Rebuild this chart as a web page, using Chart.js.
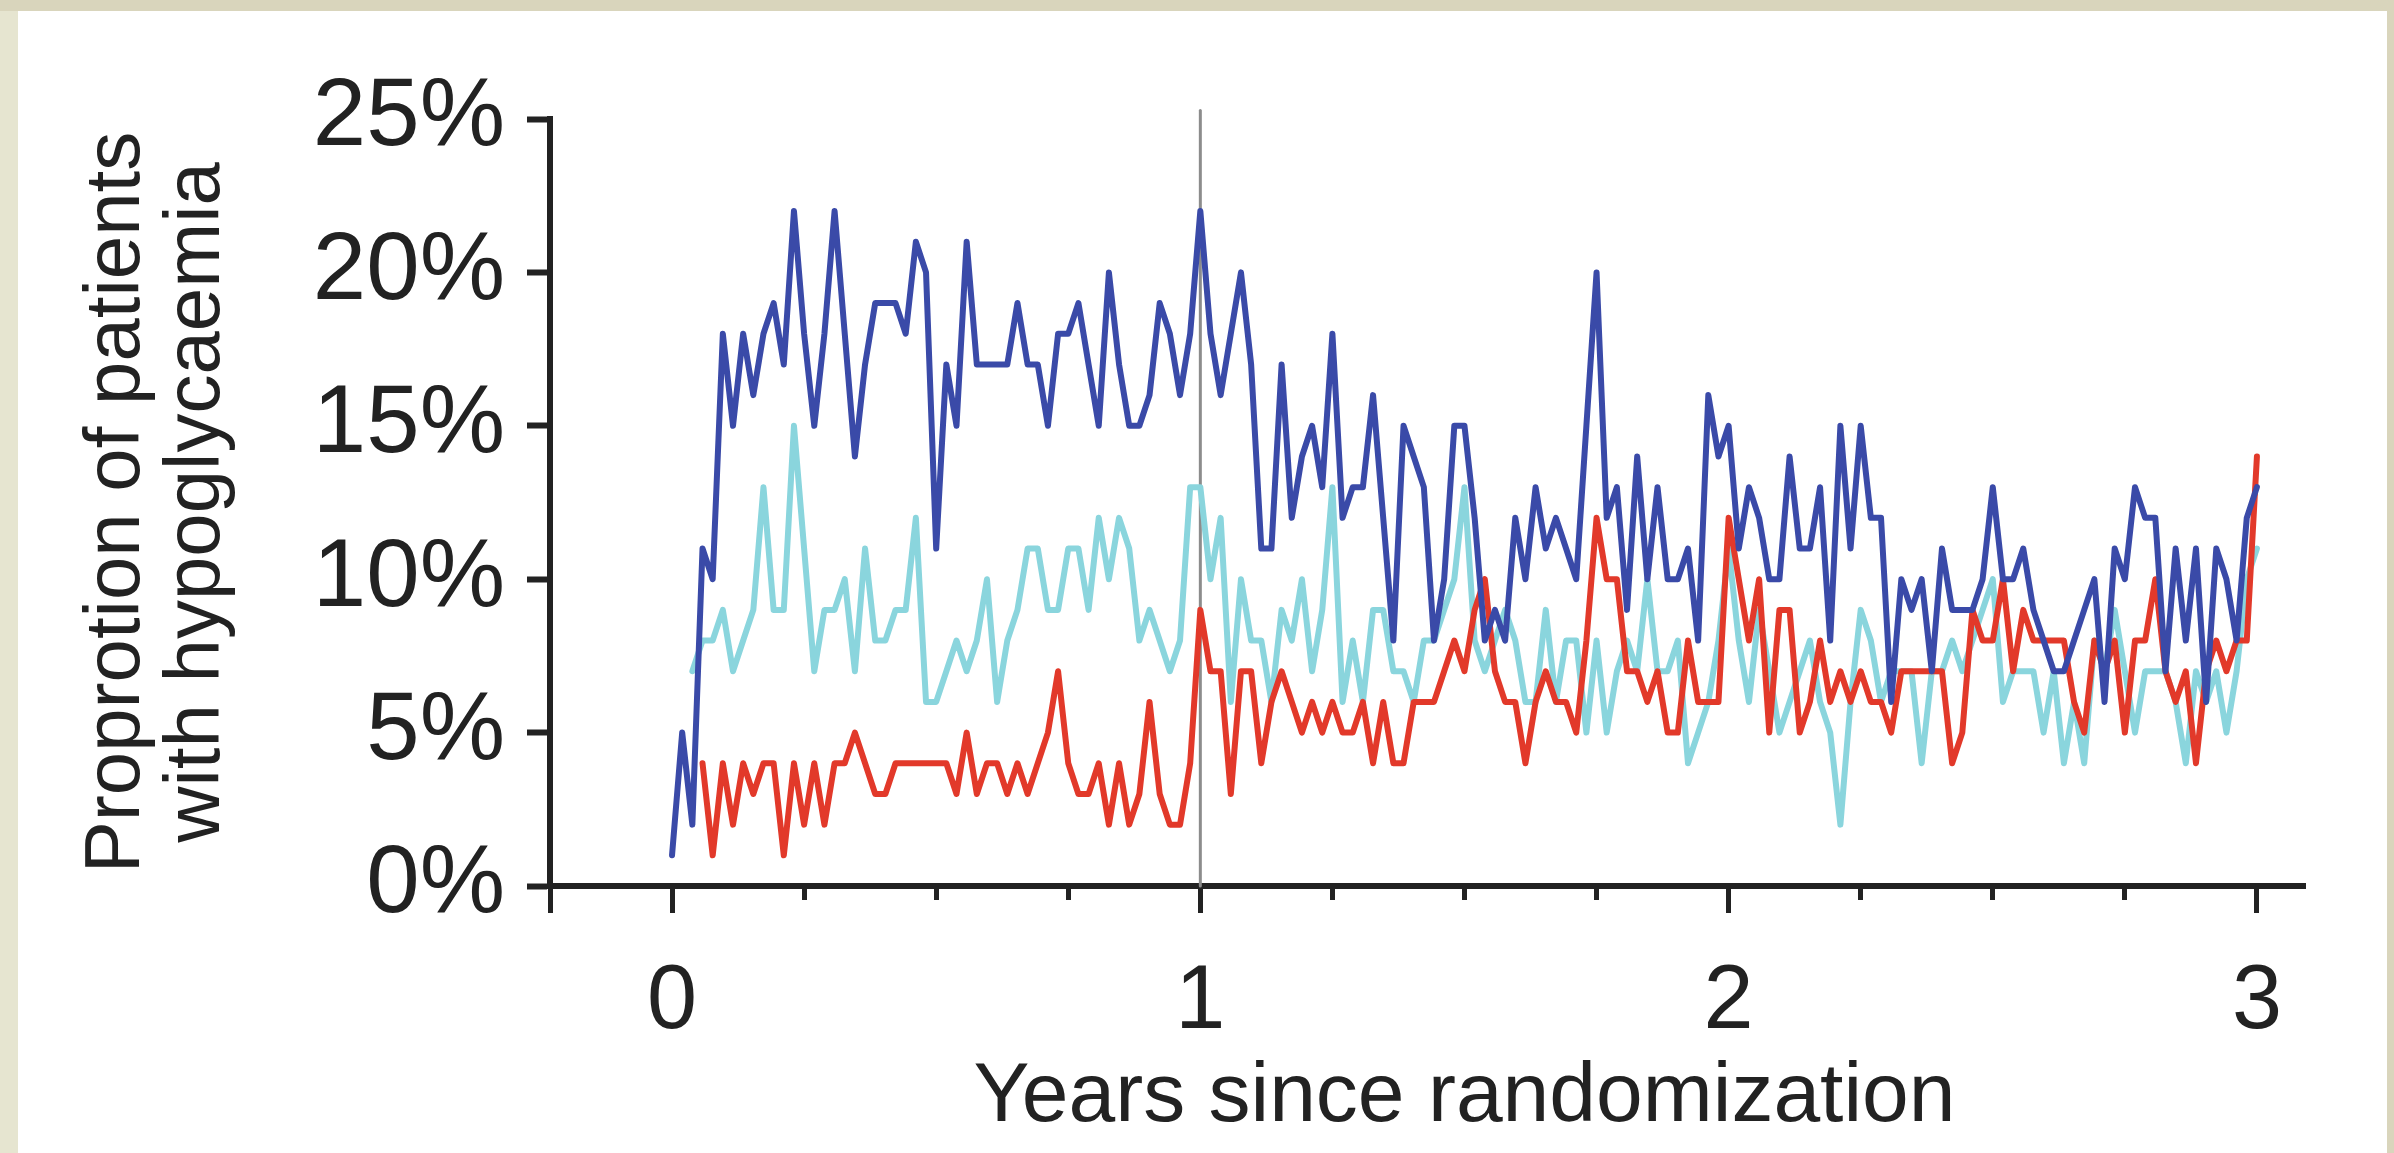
<!DOCTYPE html>
<html>
<head>
<meta charset="utf-8">
<script src="https://cdn.jsdelivr.net/npm/chart.js@4.4.1/dist/chart.umd.min.js"></script>
<style>
  html, body { margin: 0; padding: 0; }
  body { width: 2394px; height: 1153px; background: #d9d5bc; position: relative; overflow: hidden; }
  #strip { position: absolute; left: 0; top: 11px; width: 18px; bottom: 0; background: #e6e5d0; }
  #panel { position: absolute; left: 18px; top: 11px; right: 7px; bottom: 0; background: #ffffff; }
  #chart { position: absolute; left: 0; top: 0; }
</style>
</head>
<body>
<div id="strip"></div>
<div id="panel"></div>
<canvas id="chart" width="2394" height="1153"></canvas>
<script>
// weekly values (% of patients), week 0 .. week 156
let blueValues = [
  1, 5, 2, 11, 10, 18, 15, 18, 16, 18, 19, 17, 22, 18, 15, 18, 22, 18, 14, 17,
  19, 19, 19, 18, 21, 20, 11, 17, 15, 21, 17, 17, 17, 17, 19, 17, 17, 15, 18, 18,
  19, 17, 15, 20, 17, 15, 15, 16, 19, 18, 16, 18, 22, 18, 16, 18, 20, 17, 11, 11,
  17, 12, 14, 15, 13, 18, 12, 13, 13, 16, 12, 8, 15, 14, 13, 8, 10, 15, 15, 12,
  8, 9, 8, 12, 10, 13, 11, 12, 11, 10, 15, 20, 12, 13, 9, 14, 10, 13, 10, 10,
  11, 8, 16, 14, 15, 11, 13, 12, 10, 10, 14, 11, 11, 13, 8, 15, 11, 15, 12, 12,
  6, 10, 9, 10, 7, 11, 9, 9, 9, 10, 13, 10, 10, 11, 9, 8, 7, 7, 8, 9,
  10, 6, 11, 10, 13, 12, 12, 7, 11, 8, 11, 6, 11, 10, 8, 12, 13
];
let cyanValues = [
  null, null, 7, 8, 8, 9, 7, 8, 9, 13, 9, 9, 15, 11, 7, 9, 9, 10, 7, 11,
  8, 8, 9, 9, 12, 6, 6, 7, 8, 7, 8, 10, 6, 8, 9, 11, 11, 9, 9, 11,
  11, 9, 12, 10, 12, 11, 8, 9, 8, 7, 8, 13, 13, 10, 12, 6, 10, 8, 8, 6,
  9, 8, 10, 7, 9, 13, 6, 8, 6, 9, 9, 7, 7, 6, 8, 8, 9, 10, 13, 8,
  7, 8, 9, 8, 6, 6, 9, 6, 8, 8, 5, 8, 5, 7, 8, 7, 10, 7, 7, 8,
  4, 5, 6, 8, 11, 8, 6, 9, 7, 5, 6, 7, 8, 6, 5, 2, 6, 9, 8, 6,
  7, 7, 7, 4, 7, 7, 8, 7, 8, 9, 10, 6, 7, 7, 7, 5, 7, 4, 6, 4,
  8, 7, 9, 7, 5, 7, 7, 7, 6, 4, 7, 6, 7, 5, 7, 10, 11
];
let redValues = [
  null, null, null, 4, 1, 4, 2, 4, 3, 4, 4, 1, 4, 2, 4, 2, 4, 4, 5, 4,
  3, 3, 4, 4, 4, 4, 4, 4, 3, 5, 3, 4, 4, 3, 4, 3, 4, 5, 7, 4,
  3, 3, 4, 2, 4, 2, 3, 6, 3, 2, 2, 4, 9, 7, 7, 3, 7, 7, 4, 6,
  7, 6, 5, 6, 5, 6, 5, 5, 6, 4, 6, 4, 4, 6, 6, 6, 7, 8, 7, 9,
  10, 7, 6, 6, 4, 6, 7, 6, 6, 5, 8, 12, 10, 10, 7, 7, 6, 7, 5, 5,
  8, 6, 6, 6, 12, 10, 8, 10, 5, 9, 9, 5, 6, 8, 6, 7, 6, 7, 6, 6,
  5, 7, 7, 7, 7, 7, 4, 5, 9, 8, 8, 10, 7, 9, 8, 8, 8, 8, 6, 5,
  8, 7, 8, 5, 8, 8, 10, 7, 6, 7, 4, 7, 8, 7, 8, 8, 14
];
// x position of each weekly value, in years
let years = blueValues.map((v, i) => i / 52);

let xTickValues = [-0.231, 0, 0.25, 0.5, 0.75, 1, 1.25, 1.5, 1.75, 2, 2.25, 2.5, 2.75, 3];
let yTickValues = [0, 5, 10, 15, 20, 25];
let markerX = [1, 1];
let markerY = [0, 25.28];
let xTitle = "Years since randomization";

let ink = "#222222";
let font = "'Liberation Sans', Arial, Helvetica, sans-serif";

// x title is centred on the data range (0..3 years), not on the whole axis
let xTitlePlugin = {
  id: "xTitle",
  afterDraw(chart) {
    let c = chart.ctx;
    let x = chart.scales.x.getPixelForValue(1.5);
    c.save();
    c.fillStyle = ink;
    c.font = "84px " + font;
    c.textAlign = "center";
    c.textBaseline = "middle";
    c.fillText(xTitle, x, 1098);
    c.restore();
  },
};

new Chart(document.getElementById("chart"), {
  type: "line",
  data: {
    labels: years,
    datasets: [
      { label: "blue", data: blueValues, borderColor: "#3a4aa8", borderWidth: 6 },
      { label: "red", data: redValues, borderColor: "#e2392a", borderWidth: 6 },
      { label: "cyan", data: cyanValues, borderColor: "#8ad5dd", borderWidth: 6 },
      {
        label: "marker",
        data: markerX.map((x, i) => ({ x: x, y: markerY[i] })),
        borderColor: "#8c8c8c",
        borderWidth: 3,
        clip: false,
      },
    ],
  },
  options: {
    responsive: false,
    animation: false,
    devicePixelRatio: 1,
    layout: { padding: { left: 0, top: 119, right: 89, bottom: 0 } },
    elements: {
      point: { radius: 0 },
      line: { tension: 0, borderJoinStyle: "round", borderCapStyle: "round" },
    },
    plugins: { legend: { display: false }, tooltip: { enabled: false } },
    scales: {
      x: {
        type: "linear",
        min: -0.231,
        max: 3.091,
        afterBuildTicks: (scale) => {
          scale.ticks = xTickValues.map((v) => ({ value: v }));
        },
        afterFit: (scale) => {
          scale.height = 1153 - 886;
        },
        ticks: {
          autoSkip: false,
          maxRotation: 0,
          padding: 36,
          color: ink,
          font: { family: font, size: 90 },
          callback: (v) => (Number.isInteger(v) ? String(v) : ""),
        },
        grid: {
          drawOnChartArea: false,
          drawTicks: true,
          tickLength: 27,
          tickWidth: 5,
          tickColor: ink,
          tickBorderDash: (c) =>
            c.tick && c.tick.value > -0.1 && !Number.isInteger(c.tick.value) ? [11, 100] : [],
        },
        border: { display: true, width: 6, color: ink },
        title: { display: false },
      },
      y: {
        min: 0,
        max: 25,
        afterBuildTicks: (scale) => {
          scale.ticks = yTickValues.map((v) => ({ value: v }));
        },
        afterFit: (scale) => {
          scale.width = 550;
        },
        ticks: {
          padding: 22,
          color: ink,
          font: { family: font, size: 96 },
          callback: (v) => v + "%",
        },
        grid: {
          drawOnChartArea: false,
          drawTicks: true,
          tickLength: 23,
          tickWidth: 6,
          tickColor: ink,
        },
        border: { display: true, width: 6, color: ink },
        title: {
          display: true,
          text: ["Proprotion of patients", "with hypoglycaemia"],
          color: ink,
          font: { family: font, size: 78, lineHeight: 1.02 },
          padding: { top: 78, bottom: 0 },
        },
      },
    },
  },
  plugins: [xTitlePlugin],
});
</script>
</body>
</html>
